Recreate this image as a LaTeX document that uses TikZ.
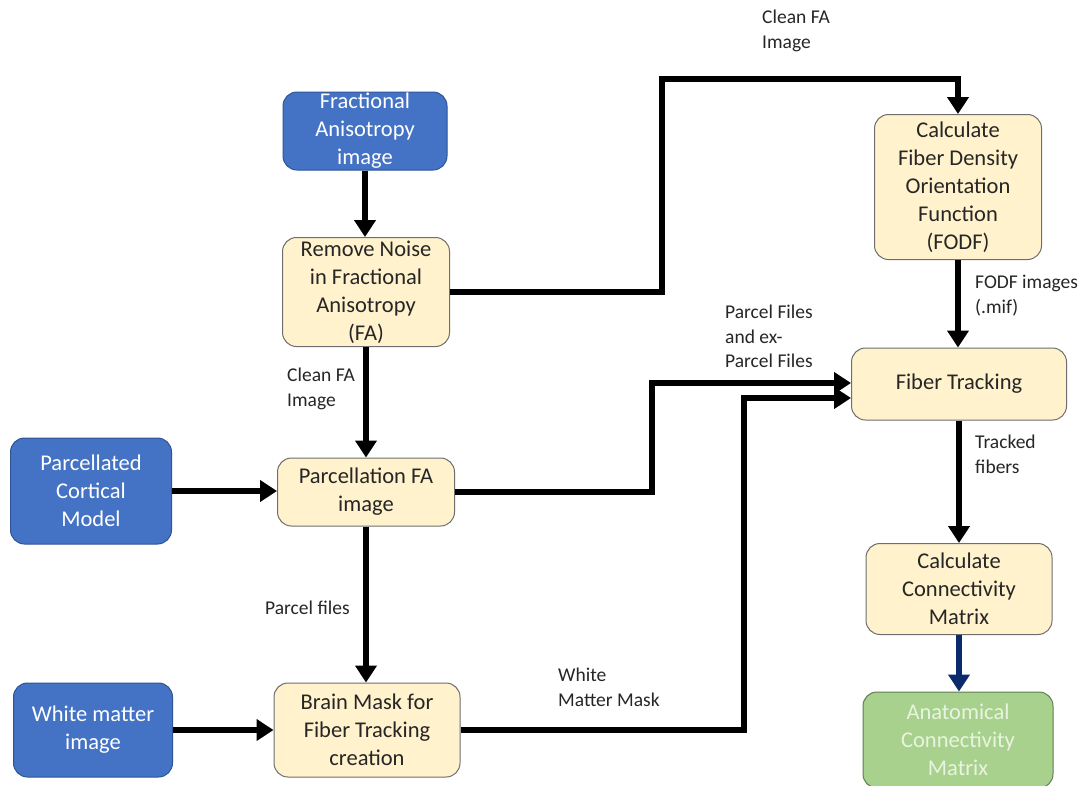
\documentclass[tikz,border=0pt]{standalone}
\usepackage{fontspec}
\setmainfont{Carlito}
\usetikzlibrary{arrows.meta}
\definecolor{inblue}{HTML}{4472C4}
\definecolor{inblueedge}{HTML}{2F5597}
\definecolor{stepfill}{HTML}{FFF2CC}
\definecolor{stepedge}{HTML}{6E6E6E}
\definecolor{outfill}{HTML}{A9D18E}
\definecolor{outedge}{HTML}{5E7F52}
\definecolor{outtext}{HTML}{E8F4DF}
\definecolor{navyarrow}{HTML}{0B2A6B}
\begin{document}
\begin{tikzpicture}[x=1pt,y=-1pt,
  box/.style={rectangle, rounded corners=14pt, line width=1pt, align=center,
    inner sep=0pt, font=\fontsize{22.5}{28}\selectfont},
  inputbox/.style={box, fill=inblue, draw=inblueedge, text=white},
  stepbox/.style={box, fill=stepfill, draw=stepedge, text=black!85},
  outbox/.style={box, fill=outfill, draw=outedge, text=outtext},
  flow/.style={line width=5.5pt, -{Triangle[width=21pt,length=17pt]}},
  navyflow/.style={flow, draw=navyarrow},
  note/.style={font=\fontsize{19.5}{24.5}\selectfont, align=left, inner sep=0pt, anchor=north west, text=black!85}]
\useasboundingbox (0,0) rectangle (1089,785);
\fill[white] (0,0) rectangle (1089,785);

% input images
\node[inputbox, minimum width=164pt, minimum height=78pt] (fa) at (365,131) {Fractional\\Anisotropy\\image};
\node[inputbox, minimum width=161pt, minimum height=106pt] (cortical) at (91,491) {Parcellated\\Cortical\\Model};
\node[inputbox, minimum width=159pt, minimum height=94pt] (wm) at (93,730) {White matter\\image};

% processing steps
\node[stepbox, minimum width=167pt, minimum height=109pt] (noise) at (366,292) {Remove Noise\\in Fractional\\Anisotropy\\(FA)};
\node[stepbox, minimum width=177pt, minimum height=68pt] (parc) at (366,492) {Parcellation FA\\image};
\node[stepbox, minimum width=186pt, minimum height=94pt] (mask) at (367,730) {Brain Mask for\\Fiber Tracking\\creation};
\node[stepbox, minimum width=167pt, minimum height=145pt] (fodf) at (958,187) {Calculate\\Fiber Density\\Orientation\\Function\\(FODF)};
\node[stepbox, minimum width=215pt, minimum height=72pt] (track) at (959,384) {Fiber Tracking};
\node[stepbox, minimum width=186pt, minimum height=91pt] (conn) at (959,589) {Calculate\\Connectivity\\Matrix};

% result
\node[outbox, minimum width=190pt, minimum height=96pt] (anat) at (958,740) {Anatomical\\Connectivity\\Matrix};

% connectors
\draw[flow] (fa.south) -- (fa.south |- noise.north);
\draw[flow] (noise.south) -- (noise.south |- parc.north);
\draw[flow] (parc.south) -- (parc.south |- mask.north);
\draw[flow] (cortical.east) -- (cortical.east -| parc.west);
\draw[flow] (wm.east) -- (wm.east -| mask.west);
\draw[flow] (noise.east) -| (662,79) -| (fodf.north);
\draw[flow] (fodf.south) -- (fodf.south |- track.north);
\draw[flow] (parc.east) -| (652,383) -- ([yshift=1pt]track.west);
\draw[flow] (mask.east) -| (744,398) -- ([yshift=-14pt]track.west);
\draw[flow] (track.south) -- (track.south |- conn.north);
\draw[navyflow] (conn.south) -- (conn.south |- anat.north);

% connector labels
\node[note] (lcleantop) at (762,10) {Clean FA\\Image};
\node[note] (lcleanleft) at (287,368) {Clean FA\\Image};
\node[note] (lparcel) at (265,601) {Parcel files};
\node[note] (lparcelex) at (725,305) {Parcel Files\\and ex-\\Parcel Files};
\node[note] (lwhite) at (558,668) {White\\Matter Mask};
\node[note] (lfodf) at (975,275) {FODF images\\(.mif)};
\node[note] (ltracked) at (975,435) {Tracked\\fibers};
\end{tikzpicture}
\end{document}
